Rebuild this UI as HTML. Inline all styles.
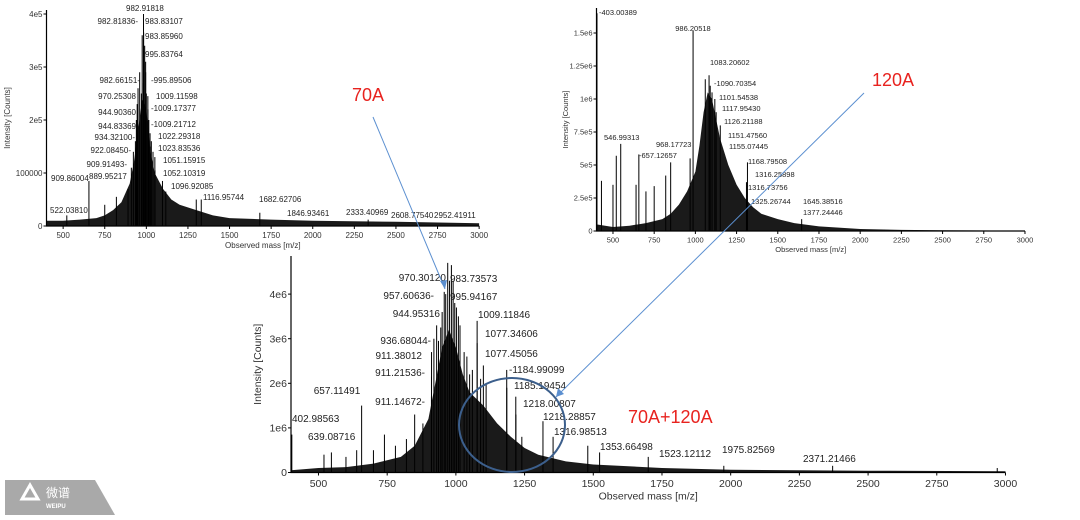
<!DOCTYPE html>
<html><head><meta charset="utf-8"><style>
html,body{margin:0;padding:0;background:#fff;width:1080px;height:520px;overflow:hidden}
svg{display:block;font-family:"Liberation Sans",sans-serif}
</style></head><body>
<svg id="s" width="1080" height="520" viewBox="0 0 1080 520">
<g id="c1"></g>
<g id="c2"></g>
<g id="c3"></g>
<g id="ann" font-size="8" fill="#222"></g>
<g>
<line x1="373" y1="117" x2="445" y2="289" stroke="#5b8fd0" stroke-width="1"/>
<polygon points="445,289 440,281 447,280" fill="#5b8fd0"/>
<line x1="864" y1="93" x2="556" y2="397" stroke="#5b8fd0" stroke-width="1"/>
<polygon points="556,397 558,388 564,394" fill="#5b8fd0"/>
<ellipse cx="512" cy="425" rx="53" ry="47" fill="none" stroke="#3c5f8c" stroke-width="2"/>
<text x="352" y="101" font-size="18" fill="#e8231f">70A</text>
<text x="872" y="86" font-size="18" fill="#e8231f">120A</text>
<text x="628" y="423" font-size="18" fill="#e8231f">70A+120A</text>
</g>
<g>
<polygon points="5,480 95,480 115,515 5,515" fill="#a9a9a9"/>
<polygon points="30,485 38,499 22,499" fill="none" stroke="#fff" stroke-width="3"/>
<text x="46" y="497" font-size="12" fill="#fff" font-family="'Liberation Sans','Noto Sans CJK SC',sans-serif">微谱</text>
<text x="46" y="508" font-size="6" fill="#fff" font-weight="bold">WEIPU</text>
</g>
</svg>
<script>
// ---- chart 1 (70A) data: m/z and intensity (1e5 counts)
const env1Mz=[400,500,600,700,750,800,850,900,925,950,975,1000,1025,1050,1100,1150,1200,1300,1400,1500,1750,2000,2500,3000];
const env1Int=[0.1,0.1,0.12,0.15,0.2,0.3,0.45,0.8,1.2,1.8,2.4,2.2,1.4,1.0,0.7,0.5,0.4,0.3,0.2,0.15,0.12,0.1,0.08,0.05];
const pk1Mz=[522,655,750,820,889.9,909.9,922.1,934.3,940,944.8,944.9,950,960,970.3,975,982.7,982.8,982.9,983.8,983.9,990,995.8,995.9,1000,1009.1,1009.2,1015,1022.3,1023.8,1030,1040,1051.2,1052.1,1096.9,1116.9,1300,1330,1682,2333];
const pk1Int=[0.2,0.85,0.4,0.55,0.7,1.1,1.4,1.6,2.0,2.0,2.3,2.6,2.9,2.5,3.6,2.7,3.6,4.0,3.65,3.4,3.4,3.1,2.9,2.5,2.45,2.2,2.0,1.75,1.5,1.6,1.4,1.3,1.05,0.85,0.65,0.5,0.5,0.25,0.12];
const yTicks1=[0,1,2,3,4];
const yTickLabels1=["0","100000","2e5","3e5","4e5"];
// ---- chart 2 (120A) data: intensity in 1e5 counts
const env2Mz=[400,500,600,700,800,850,900,950,1000,1025,1050,1075,1100,1125,1150,1200,1250,1300,1350,1400,1500,1600,1750,2000,2250,2500,3000];
const env2Int=[0.5,0.3,0.4,0.6,0.9,1.3,2,3,4.5,6.5,9,10.5,10,8.5,7,5,3.5,2.5,1.8,1.3,0.9,0.6,0.35,0.15,0.08,0.05,0.03];
const pk2Mz=[403,430,500,520,547,640,657,700,750,820,850,968,986,1060,1083,1090,1101,1118,1126,1151,1310,1316,1645];
const pk2Int=[16.5,3.8,3.5,5.7,6.6,3.5,5.8,3,3.4,4.2,5.2,5.5,15.2,11.5,11.8,11,10.5,10,9,8,3.7,5.2,0.9];
const yTicks2=[0,2.5,5,7.5,10,12.5,15];
const yTickLabels2=["0","2.5e5","5e5","7.5e5","1e6","1.25e6","1.5e6"];
// ---- chart 3 (70A+120A) data: intensity in 1e6 counts
const env3Mz=[400,500,600,700,800,850,900,925,950,975,1000,1025,1050,1100,1150,1200,1250,1300,1400,1500,1750,2000,2500,3000];
const env3Int=[0.05,0.1,0.12,0.2,0.35,0.6,1.2,2,2.8,3.2,2.8,2.2,1.8,1.5,1.1,0.8,0.55,0.4,0.25,0.18,0.1,0.06,0.04,0.03];
const pk3Mz=[403,520,547,600,639,657,700,740,780,820,850,880,911.1,911.2,911.4,920,930,936.7,944.9,950,957.6,963,970.3,977,983.7,990,995.9,1002,1009.1,1015,1030,1040,1050,1060,1077.3,1077.5,1090,1100,1110,1185,1185.2,1218,1218.3,1240,1316.9,1353.7,1480,1523,1700,1975,2371,2970];
const pk3Int=[0.85,0.4,0.45,0.35,0.5,1.5,0.5,0.85,0.6,0.75,1.3,1.1,1.7,2.15,2.7,3.0,3.3,2.95,3.25,3.6,4.05,4.0,4.7,4.3,4.65,4.3,3.8,3.7,3.5,3.3,2.7,2.6,2.2,2.3,3.4,2.9,2.1,2.4,2.0,2.3,1.9,1.7,1.3,0.8,1.15,0.8,0.6,0.45,0.35,0.15,0.15,0.1];
const yTicks3=[0,1,2,3,4];
const yTickLabels3=["0","1e6","2e6","3e6","4e6"];
const xTicks=[500,750,1000,1250,1500,1750,2000,2250,2500,2750,3000];

const NS="http://www.w3.org/2000/svg";
function mk(p,t,a){const e=document.createElementNS(NS,t);for(const k in a)e.setAttribute(k,a[k]);p.appendChild(e);return e;}
function chart(g,o,envM,envI,pM,pI,yT,yL){
  const X=m=>o.x0+(m-400)*o.sx, Y=v=>o.y0-v*o.sy;
  let d="M"+X(envM[0])+","+o.y0;
  envM.forEach((m,i)=>{d+=" L"+X(m).toFixed(1)+","+Y(envI[i]).toFixed(1);});
  d+=" L"+X(3000)+","+o.y0+" Z";
  const a=mk(g,"path",{d:d,fill:"#1a1a1a"});
  
  
  pM.forEach((m,i)=>{const l=mk(g,"line",{x1:X(m),x2:X(m),y1:o.y0,y2:Y(pI[i]),stroke:"#000","stroke-width":1});
    
    });
  const ax=mk(g,"path",{d:`M${o.x0},${o.top} V${o.y0} H${X(3000)}`,fill:"none",stroke:"#000","stroke-width":1.2});
  
  
  xTicks.forEach(t=>{mk(g,"line",{x1:X(t),x2:X(t),y1:o.y0,y2:o.y0+3,stroke:"#000"});
    const tx=mk(g,"text",{x:X(t),y:o.y0+o.fs+4,"text-anchor":"middle","font-size":o.fs,fill:"#333"});tx.textContent=t;
    
    });
  yT.forEach((t,i)=>{mk(g,"line",{x1:o.x0-3,x2:o.x0,y1:Y(t),y2:Y(t),stroke:"#000"});
    const tx=mk(g,"text",{x:o.x0-4,y:Y(t)+o.fs*0.35,"text-anchor":"end","font-size":o.fs,fill:"#333"});tx.textContent=yL[i];
    
    });
  const xt=mk(g,"text",{x:(o.x0+X(3000))/2,y:o.y0+o.fs*2+6,"text-anchor":"middle","font-size":o.fs,fill:"#333"});xt.textContent="Observed mass [m/z]";
  
  
  const yt=mk(g,"text",{transform:`translate(${o.ytx},${(o.top+o.y0)/2}) rotate(-90)`,"text-anchor":"middle","font-size":o.fs,fill:"#333"});yt.textContent="Intensity [Counts]";
  
  
}
chart(document.getElementById("c1"),{x0:46.5,sx:0.1664,y0:226,sy:53,top:10,fs:8,ytx:10},env1Mz,env1Int,pk1Mz,pk1Int,yTicks1,yTickLabels1);
chart(document.getElementById("c2"),{x0:596.5,sx:0.1648,y0:231,sy:13.2,top:8,fs:7.5,ytx:568},env2Mz,env2Int,pk2Mz,pk2Int,yTicks2,yTickLabels2);
chart(document.getElementById("c3"),{x0:291,sx:0.2748,y0:472.5,sy:44.6,top:256,fs:10.5,ytx:261},env3Mz,env3Int,pk3Mz,pk3Int,yTicks3,yTickLabels3);

// peak annotations: [text, x, y, anchor, size]
const ann=[
["982.91818",126,11,"start",8],["982.81836-",138,24,"end",8],["983.83107",145,24,"start",8],["983.85960",145,39,"start",8],["995.83764",145,57,"start",8],
["982.66151-",140,83,"end",8],["-995.89506",151,83,"start",8],["970.25308",136,99,"end",8],["1009.11598",156,99,"start",8],["944.90360",136,115,"end",8],
["-1009.17377",151,111,"start",8],["944.83369",136,129,"end",8],["-1009.21712",151,127,"start",8],["934.32100-",135,140,"end",8],["1022.29318",158,139,"start",8],
["922.08450-",131,153,"end",8],["1023.83536",158,151,"start",8],["909.91493-",127,167,"end",8],["1051.15915",163,163,"start",8],["909.86004",51,181,"start",8],
["889.95217",89,179,"start",8],["1052.10319",163,176,"start",8],["1096.92085",171,189,"start",8],["1116.95744",203,200,"start",8],["1682.62706",259,202,"start",8],
["522.03810",50,213,"start",8],["1846.93461",287,216,"start",8],["2333.40969",346,215,"start",8],["2608.77540",391,218,"start",8],["2952.41911",434,218,"start",8],
["-403.00389",599,15,"start",7.5],["986.20518",693,31,"middle",7.5],["1083.20602",710,65,"start",7.5],["-1090.70354",714,86,"start",7.5],["1101.54538",719,100,"start",7.5],
["1117.95430",722,111,"start",7.5],["1126.21188",724,124,"start",7.5],["546.99313",604,140,"start",7.5],["968.17723",656,147,"start",7.5],["1151.47560",728,138,"start",7.5],
["-657.12657",639,158,"start",7.5],["1155.07445",729,149,"start",7.5],["1168.79508",748,164,"start",7.5],["1316.25898",755,177,"start",7.5],["1316.73756",748,190,"start",7.5],
["1325.26744",751,204,"start",7.5],["1645.38516",803,204,"start",7.5],["1377.24446",803,215,"start",7.5],
["970.30120",446,281,"end",10],["983.73573",450,282,"start",10],["957.60636-",434,299,"end",10],["995.94167",450,300,"start",10],["944.95316",440,317,"end",10],
["1009.11846",478,318,"start",10],["1077.34606",485,337,"start",10],["936.68044-",431,344,"end",10],["911.38012",422,359,"end",10],["1077.45056",485,357,"start",10],
["-1184.99099",509,373,"start",10],["911.21536-",425,376,"end",10],["1185.19454",514,389,"start",10],["657.11491",337,394,"middle",10],["911.14672-",425,405,"end",10],
["1218.00807",523,407,"start",10],["402.98563",292,422,"start",10],["1218.28857",543,420,"start",10],["639.08716",308,440,"start",10],["1316.98513",554,435,"start",10],
["1353.66498",600,450,"start",10],["1523.12112",659,457,"start",10],["1975.82569",722,453,"start",10],["2371.21466",803,462,"start",10]];
const A=document.getElementById("ann");
ann.forEach(r=>{const t=mk(A,"text",{x:r[1],y:r[2],"text-anchor":r[3],"font-size":r[4]});t.textContent=r[0];
  
  });
</script>
</body></html>
